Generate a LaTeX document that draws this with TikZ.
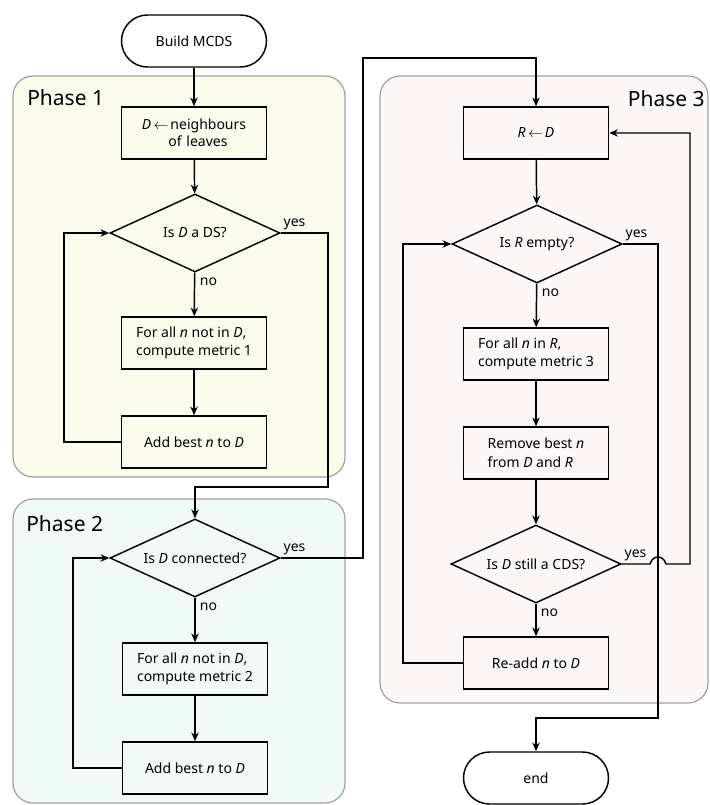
\documentclass[tikz,border=0pt]{standalone}
\usepackage{fontspec}
\setmainfont{Noto Sans}
\usetikzlibrary{shapes.geometric,arrows.meta}

\definecolor{fondun}{RGB}{252,252,237}
\definecolor{fonddeux}{RGB}{240,251,247}
\definecolor{fondtrois}{RGB}{253,246,246}
\definecolor{bord}{RGB}{160,160,160}

\tikzset{
  bloc/.style={draw, line width=1.1pt, minimum width=108.75pt, minimum height=39pt,
    font=\fontsize{10.5}{14}\selectfont},
  test/.style={draw, diamond, line width=1.1pt, aspect=2.2, inner sep=0pt,
    minimum width=127.5pt, minimum height=58.5pt, font=\fontsize{10.5}{14}\selectfont},
  bout/.style={bloc, fill=white, rounded corners=19.5pt},
  phase/.style={draw=bord, line width=0.9pt, rounded corners=15pt},
  titre/.style={font=\fontsize{15.75}{18}\selectfont, inner sep=0pt},
  lbl/.style={font=\fontsize{10.5}{14}\selectfont, inner sep=2pt},
  fleche/.style={line width=1.1pt, -{Stealth[length=6.5pt, width=5.5pt, inset=2pt]}},
  ligne/.style={line width=1.1pt}
}

\begin{document}
\begin{tikzpicture}[x=0.75pt, y=-0.75pt]
    \useasboundingbox (0,0) rectangle (709,805);
    % les trois phases
    \draw[phase, fill=fondun] (13,76) rectangle (345,477);
    \draw[phase, fill=fonddeux] (13,499) rectangle (345,803);
    \draw[phase, fill=fondtrois] (380,76) rectangle (708,703);
    \node[titre, anchor=base west] (p1) at (27,106) {Phase 1};
    \node[titre, anchor=base west] (p2) at (26,531) {Phase 2};
    \node[titre, anchor=base east] (p3) at (705,107) {Phase 3};

    \node[bout] (debut) at (194,41) {Build MCDS};
    % phase 1
    \node[bloc, text width=100pt, align=center] (b1) at (194,133) {\textit{D}\,$\leftarrow$\,neighbours\\[-1pt]\hspace*{6pt}of leaves};
    \node[test] (t1) at (195,233) {Is \textit{D} a DS?};
    \node[bloc, align=left] (m1) at (194,343) {For all \textit{n} not in \textit{D},\\compute metric 1};
    \node[bloc] (a1) at (194,442) {Add best \textit{n} to \textit{D}};
    % phase 2
    \node[test] (t2) at (195,558) {Is \textit{D} connected?};
    \node[bloc, align=left] (m2) at (195,669) {For all \textit{n} not in \textit{D},\\compute metric 2};
    \node[bloc] (a2) at (195,768) {Add best \textit{n} to \textit{D}};
    % phase 3
    \node[bloc] (r1) at (536,133) {\textit{R}\,$\leftarrow$\,\textit{D}};
    \node[test] (t4) at (537,244) {Is \textit{R} empty?};
    \node[bloc, align=left] (m3) at (536,354) {For all \textit{n} in \textit{R},\\compute metric 3};
    \node[bloc, align=left] (rm) at (536,453) {Remove best \textit{n}\\from \textit{D} and \textit{R}};
    \node[test] (t6) at (536,564) {Is \textit{D} still a CDS?};
    \node[bloc] (ra) at (536,663) {Re-add \textit{n} to \textit{D}};
    \node[bout] (fin) at (536,778) {end};

    \coordinate (k1) at (64,233);
    \coordinate (c1) at (328,487);
    \coordinate (k2) at (73,558);
    \coordinate (c2) at (363,58);
    \coordinate (k3) at (403,244);
    \coordinate (c3) at (658,718);
    \coordinate (h) at (658,564);
    \coordinate (c4) at (690,133);

    \draw[fleche] (debut) -- (b1);
    \draw[fleche] (b1) -- (t1);
    \draw[fleche] (t1) -- (m1);
    \draw[fleche] (m1) -- (a1);
    \draw[fleche] (a1.west) -| (k1) -- (t1.west);
    \draw[fleche] (t1.east) -| (c1) -| (t2.north);
    \draw[fleche] (t2) -- (m2);
    \draw[fleche] (m2) -- (a2);
    \draw[fleche] (a2.west) -| (k2) -- (t2.west);
    \draw[fleche] (t2.east) -| (c2) -| (r1.north);
    \draw[fleche] (r1) -- (t4);
    \draw[fleche] (t4) -- (m3);
    \draw[fleche] (m3) -- (rm);
    \draw[fleche] (rm) -- (t6);
    \draw[fleche] (t6) -- (ra);
    \draw[fleche] (ra.west) -| (k3) -- (t4.west);
    \draw[fleche] (t4.east) -| (c3) -| (fin.north);
    \draw[fleche] (t6.east) -- ([xshift=-6pt]h)
        .. controls ([xshift=-4pt, yshift=7pt]h) and ([xshift=4pt, yshift=7pt]h) .. ([xshift=6pt]h)
        -| (c4) -- (r1.east);

    \node[lbl, above right] (y1) at (t1.east) {yes};
    \node[lbl, below right, inner sep=3.5pt] (n1) at (t1.south) {no};
    \node[lbl, above right] (y2) at (t2.east) {yes};
    \node[lbl, below right, inner sep=3.5pt] (n2) at (t2.south) {no};
    \node[lbl, above right] (y4) at (t4.east) {yes};
    \node[lbl, below right, inner sep=3.5pt] (n4) at (t4.south) {no};
    \node[lbl, above right] (y6) at (t6.east) {yes};
    \node[lbl, below right, inner sep=3.5pt] (n6) at (t6.south) {no};
\end{tikzpicture}
\end{document}
